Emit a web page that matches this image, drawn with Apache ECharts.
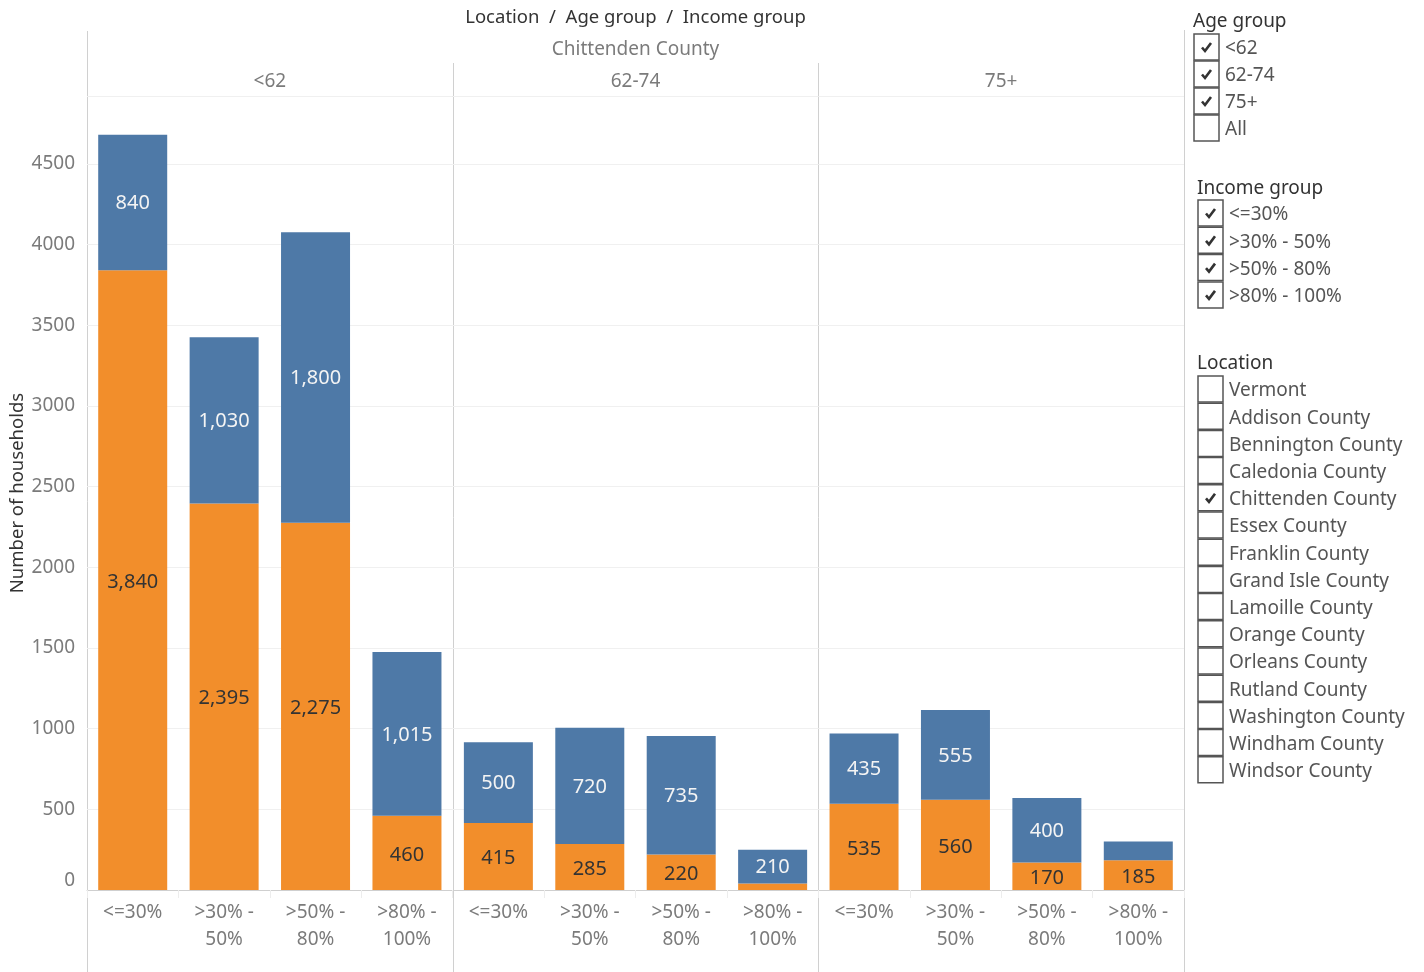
<!DOCTYPE html>
<html>
<head>
<meta charset="utf-8">
<script src="https://cdn.jsdelivr.net/npm/echarts@6/dist/echarts.min.js"></script>
<style>
  html, body { margin: 0; padding: 0; background: #fff; }
  #chart { width: 1424px; height: 972px; }
</style>
</head>
<body>
<div id="chart"></div>
<script>
// ---------- data ----------
const chartTitle = 'Location  /  Age group  /  Income group';
const selectedLocation = 'Chittenden County';
const ageGroups = ['<62', '62-74', '75+'];
const incomeGroups = ['<=30%', '>30% - 50%', '>50% - 80%', '>80% - 100%'];
// orange (bottom) segment per age group
const lowerUnder62 = [3840, 2395, 2275, 460];
const lower62to74 = [415, 285, 220, 40];
const lower75plus = [535, 560, 170, 185];
// blue (top) segment per age group
const upperUnder62 = [840, 1030, 1800, 1015];
const upper62to74 = [500, 720, 735, 210];
const upper75plus = [435, 555, 400, 115];
const yAxisName = 'Number of households';
const yMax = 4920;
const yInterval = 500;

// filter panels
const ageFilterItems = ['<62', '62-74', '75+', 'All'];
const ageFilterChecked = [true, true, true, false];
const incomeFilterChecked = [true, true, true, true];
const locations = ['Vermont', 'Addison County', 'Bennington County', 'Caledonia County',
  'Chittenden County', 'Essex County', 'Franklin County', 'Grand Isle County',
  'Lamoille County', 'Orange County', 'Orleans County', 'Rutland County',
  'Washington County', 'Windham County', 'Windsor County'];

// ---------- layout ----------
const FONT = '"Noto Sans", "Open Sans", sans-serif';
const plotLeft = 87, plotRight = 1184, plotTop = 96, plotBottom = 890;
const panelW = (plotRight - plotLeft) / ageGroups.length;
const ORANGE = '#F28E2B', BLUE = '#4E79A7';
const lowers = [lowerUnder62, lower62to74, lower75plus];
const uppers = [upperUnder62, upper62to74, upper75plus];
const labelMin = 150;
const fmt = v => v.toLocaleString('en-US');

const grids = [], xAxes = [], yAxes = [], series = [];
ageGroups.forEach((ag, i) => {
  grids.push({ left: plotLeft + i * panelW, top: plotTop, width: panelW, height: plotBottom - plotTop });
  xAxes.push({
    gridIndex: i, type: 'category', data: incomeGroups,
    axisLine: { show: true, lineStyle: { color: '#cfcfcf', width: 1 } },
    axisTick: { show: true, length: 8, lineStyle: { color: '#ededed' } },
    axisLabel: { interval: 0, color: '#7b7b7b', fontSize: 19, lineHeight: 27, margin: 9,
      fontFamily: FONT, formatter: v => v.replace(' - ', ' -\n') }
  });
  yAxes.push({
    gridIndex: i, type: 'value', min: 0, max: yMax, interval: yInterval,
    axisLine: { show: false }, axisTick: { show: false },
    axisLabel: { show: i === 0, color: '#7b7b7b', fontSize: 19, margin: 12, fontFamily: FONT,
      showMaxLabel: false, verticalAlignMinLabel: 'bottom', formatter: v => String(v) },
    splitLine: { show: true, lineStyle: { color: '#f0f0f0', width: 1 } },
    name: i === 0 ? yAxisName : '', nameLocation: 'middle', nameGap: 59,
    nameTextStyle: { color: '#333', fontSize: 18.5, fontFamily: FONT }
  });
  series.push({
    type: 'bar', name: 'lower', xAxisIndex: i, yAxisIndex: i, stack: 'p' + i,
    data: lowers[i], barWidth: 69, itemStyle: { color: ORANGE },
    label: { show: true, position: 'inside', offset: [0, 2], color: '#333', fontSize: 20, fontFamily: FONT,
      formatter: p => (p.value >= labelMin ? fmt(p.value) : '') }
  });
  series.push({
    type: 'bar', name: 'upper', xAxisIndex: i, yAxisIndex: i, stack: 'p' + i,
    data: uppers[i], barWidth: 69, itemStyle: { color: BLUE },
    label: { show: true, position: 'inside', offset: [0, 1], color: '#f4f4f4', fontSize: 20, fontFamily: FONT,
      formatter: p => (p.value >= labelMin ? fmt(p.value) : '') }
  });
});

// ---------- decorations (headers, borders, filters) ----------
const LINE = '#d0d0d0';
const TEXT_DY = 2;
const graphic = [];
function line(x1, y1, x2, y2, c) {
  graphic.push({ type: 'line', silent: true, shape: { x1, y1, x2, y2 }, style: { stroke: c || LINE, lineWidth: 1 } });
}
function text(t, x, y, size, color, align) {
  graphic.push({ type: 'text', silent: true, style: { text: t, x, y: y + TEXT_DY, font: size + 'px ' + FONT, fill: color,
    textAlign: align || 'left', textVerticalAlign: 'middle' } });
}
line(plotLeft + 0.5, 31, plotLeft + 0.5, 972);
line(plotRight + 0.5, 30, plotRight + 0.5, 972);
for (let i = 1; i < ageGroups.length; i++) {
  const x = Math.round(plotLeft + i * panelW) + 0.5;
  line(x, 63, x, 972);
}
line(plotLeft, plotTop + 0.5, plotRight, plotTop + 0.5);
text(chartTitle, (plotLeft + plotRight) / 2, 16, 18.5, '#333', 'center');
text(selectedLocation, (plotLeft + plotRight) / 2, 48, 19, '#7b7b7b', 'center');
ageGroups.forEach((ag, i) => text(ag, plotLeft + (i + 0.5) * panelW, 80, 19, '#7b7b7b', 'center'));

function checkbox(x, cy, checked) {
  graphic.push({ type: 'rect', silent: true, shape: { x: x, y: cy - 13, width: 25, height: 26 },
    style: { fill: '#fff', stroke: '#555', lineWidth: 1.5 } });
  if (checked) {
    graphic.push({ type: 'polyline', silent: true,
      shape: { points: [[x + 8, cy + 0.5], [x + 11, cy + 4], [x + 17, cy - 4]] },
      style: { stroke: '#333', lineWidth: 2.6, fill: null } });
  }
}
function filterPanel(title, items, checked, x, titleY, firstY, step) {
  text(title, x, titleY, 19, '#333');
  items.forEach((it, k) => {
    const cy = firstY + k * step;
    checkbox(x + 1, cy, checked[k]);
    text(it, x + 32, cy, 19, '#555');
  });
}
filterPanel('Age group', ageFilterItems, ageFilterChecked, 1193, 20, 47, 27);
filterPanel('Income group', incomeGroups, incomeFilterChecked, 1197, 187, 213, 27.3);
filterPanel('Location', locations, locations.map(l => l === selectedLocation), 1197, 362, 389, 27.2);

const chart = echarts.init(document.getElementById('chart'), null, { renderer: 'canvas' });
chart.setOption({
  animation: false,
  backgroundColor: '#fff',
  textStyle: { fontFamily: FONT },
  grid: grids, xAxis: xAxes, yAxis: yAxes, series: series,
  graphic: graphic
});
</script>
</body>
</html>
